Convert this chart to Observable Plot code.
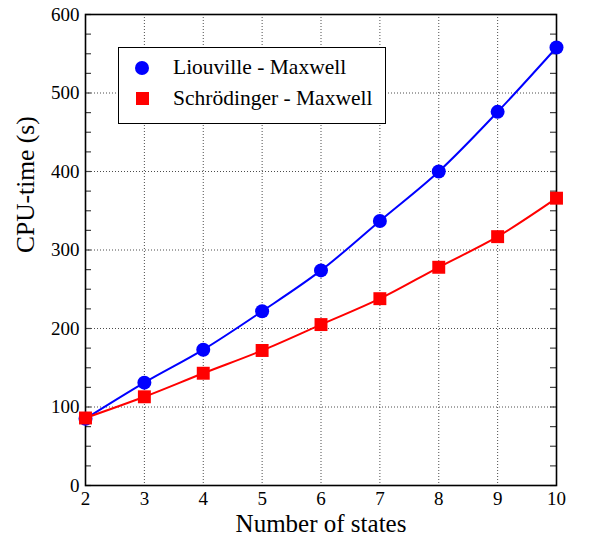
<!DOCTYPE html>
<html>
<head>
<meta charset="utf-8">
<script src="https://cdn.jsdelivr.net/npm/d3@7"></script>
<script src="https://cdn.jsdelivr.net/npm/@observablehq/plot@0.6"></script>
<style>
  html, body { margin: 0; padding: 0; background: #fff; }
  #wrap { position: relative; width: 589px; height: 540px; font-family: "Liberation Serif", "Times New Roman", serif; }
  #legend {
    position: absolute; left: 118px; top: 47px; width: 266px; height: 71px;
    border: 1.5px solid #000; background: #fff; box-sizing: content-box;
    padding-top: 4px;
  }
  .row { display: flex; align-items: center; height: 31px; line-height: 31px; font-size: 21.5px; color: #000; }
  .sym { width: 14px; height: 14px; margin-left: 16px; margin-right: 24px; display: flex; align-items: center; justify-content: center; }
  .circ { width: 14px; height: 14px; border-radius: 50%; background: #0000ff; }
  .sq { width: 13px; height: 13px; background: #ff0000; }
</style>
</head>
<body>
<div id="wrap"></div>
<script>
const states = [2, 3, 4, 5, 6, 7, 8, 9, 10];
const liouvilleMaxwell = [85, 131, 173, 222, 274, 337, 400, 476, 558];
const schrodingerMaxwell = [86, 113, 143, 172, 205, 238, 278, 317, 366];
const seriesNames = ["Liouville - Maxwell", "Schrödinger - Maxwell"];
const xTicks = [2, 3, 4, 5, 6, 7, 8, 9, 10];
const yTicks = [0, 100, 200, 300, 400, 500, 600];
const yMinorTicks = d3.range(0, 601, 25);
const xLabel = "Number of states";
const yLabel = "CPU-time (s)";

const lm = states.map((x, i) => ({x, y: liouvilleMaxwell[i]}));
const sm = states.map((x, i) => ({x, y: schrodingerMaxwell[i]}));

const W = 589, H = 540, mL = 85, mR = 33, mT = 14, mB = 55;
const innerW = W - mL - mR;

const chart = Plot.plot({
  width: W,
  height: H,
  marginLeft: mL,
  marginRight: mR,
  marginTop: mT,
  marginBottom: mB,
  style: {fontFamily: "'Liberation Serif', 'Times New Roman', serif", fontSize: "19px", color: "#000", background: "#fff"},
  x: {domain: [2, 10]},
  y: {domain: [0, 600]},
  marks: [
    Plot.gridX(xTicks, {stroke: "#000", strokeOpacity: 0.7, strokeDasharray: "1,2"}),
    Plot.gridY(yTicks, {stroke: "#000", strokeOpacity: 0.7, strokeDasharray: "1,2"}),
    Plot.tickY(yMinorTicks, {y: d => d, insetRight: innerW - 6, stroke: "#444", strokeWidth: 1.2}),
    Plot.tickY(yMinorTicks, {y: d => d, insetLeft: innerW - 6, stroke: "#444", strokeWidth: 1.2}),
    Plot.axisY(yTicks, {anchor: "left", tickSize: 0, tickPadding: 6, fontSize: 19, label: null}),
    Plot.axisX(xTicks, {anchor: "bottom", tickSize: 0, tickPadding: 6, fontSize: 19, label: null}),
    Plot.frame({stroke: "#000", strokeWidth: 1.6}),
    Plot.line(lm, {x: "x", y: "y", stroke: "#0000ff", strokeWidth: 2, curve: "catmull-rom"}),
    Plot.line(sm, {x: "x", y: "y", stroke: "#ff0000", strokeWidth: 2, curve: "catmull-rom"}),
    Plot.dot(lm, {x: "x", y: "y", r: 7, fill: "#0000ff", symbol: "circle"}),
    Plot.dot(sm, {x: "x", y: "y", r: 7.3, fill: "#ff0000", symbol: "square"}),
    Plot.text([xLabel], {text: d => d, frameAnchor: "bottom", dy: 46, fontSize: 25}),
    Plot.text([yLabel], {text: d => d, frameAnchor: "left", rotate: -90, dx: -60, dy: 3, fontSize: 25.5})
  ]
});

const wrap = document.getElementById("wrap");
wrap.appendChild(chart);

const legend = document.createElement("div");
legend.id = "legend";
legend.innerHTML = `
  <div class="row"><div class="sym"><div class="circ"></div></div><span>${seriesNames[0]}</span></div>
  <div class="row"><div class="sym"><div class="sq"></div></div><span>${seriesNames[1]}</span></div>`;
wrap.appendChild(legend);
</script>
</body>
</html>
